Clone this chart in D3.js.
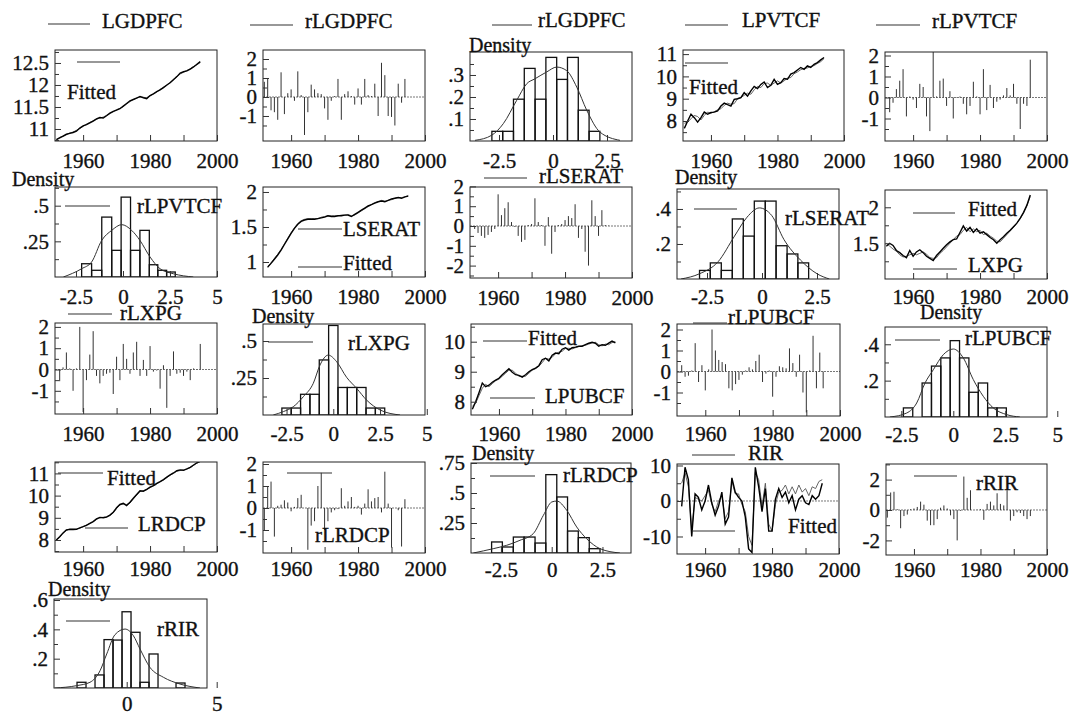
<!DOCTYPE html>
<html><head><meta charset="utf-8">
<script src="https://cdn.jsdelivr.net/npm/d3@7"></script>
<style>
body{margin:0;background:#fff}
svg{display:block}
text{font-family:"Liberation Serif","Times New Roman",serif;font-size:21px;fill:#111;stroke:#111;stroke-width:0.35px}
</style></head><body>
<svg id="c" width="1074" height="717"></svg>
<script>
// ---------------- DATA ----------------
const timeTicks = [1960, 1980, 2000];
const timeMinorTicks = [1970, 1990];

// LGDPFC
const lgdpfcStart = 1952;
const lgdpfcActual = [10.76,10.80,10.84,10.88,10.90,10.92,10.95,11.02,11.07,11.10,11.14,11.18,11.23,11.26,11.25,11.30,11.36,11.40,11.43,11.46,11.52,11.58,11.64,11.67,11.70,11.74,11.71,11.69,11.76,11.80,11.85,11.89,11.94,12.00,12.05,12.12,12.19,12.27,12.30,12.32,12.36,12.41,12.47,12.53];
const lgdpfcFitted = [10.75,10.81,10.83,10.87,10.91,10.93,10.97,11.01,11.06,11.11,11.15,11.19,11.22,11.25,11.27,11.31,11.35,11.39,11.44,11.47,11.51,11.57,11.62,11.67,11.71,11.72,11.72,11.71,11.75,11.80,11.84,11.90,11.95,11.99,12.06,12.13,12.18,12.25,12.29,12.33,12.37,12.42,12.46,12.51];
const lgdpfcTicks = [11, 11.5, 12, 12.5];
const rLgdpfcStart = 1952;
const rLgdpfc = [0.8,1.0,-0.7,-0.8,-1.2,1.3,-0.9,0.2,0.4,-0.2,1.35,0.1,-2.0,-0.8,0.65,0.4,0.2,0.15,-0.6,-1.2,-0.2,0.05,0.95,-1.2,0.15,0.3,0.05,-0.4,0.45,-0.4,0.95,0.1,0.05,0.7,-1.0,1.8,1.15,-1.0,-1.05,-1.5,0.7,-0.3,0.95];
const rLgdpfcBinEdges = [-2.83,-2.33,-1.83,-1.33,-0.83,-0.33,0.17,0.67,1.17,1.67,2.17];
const rLgdpfcBinDensity = [0.044,0.044,0.19,0.33,0.19,0.38,0.28,0.38,0.14,0.044];
const rLgdpfcCurveX = [-3.61,-2.84,-2.30,-1.68,-1.22,-0.83,-0.29,0.17,0.63,1.10,1.56,2.18,3.1];
const rLgdpfcCurveY = [0.003,0.026,0.079,0.185,0.26,0.283,0.314,0.336,0.32,0.245,0.14,0.04,0.003];

// LPVTCF
const lpvtcfStart = 1952;
const lpvtcfActual = [7.67,8.0,8.3,8.15,7.95,8.15,8.4,8.3,8.38,8.4,8.45,8.67,8.8,8.73,8.67,8.97,9.0,9.05,9.27,9.12,9.35,9.55,9.45,9.64,9.75,9.5,9.6,9.87,9.64,9.72,9.9,9.87,10.1,10.17,10.29,10.4,10.32,10.47,10.4,10.54,10.62,10.74,10.85];
const lpvtcfFitted = [7.9,7.95,8.1,8.25,8.2,8.05,8.25,8.4,8.35,8.42,8.5,8.55,8.7,8.8,8.75,8.78,9.0,9.05,9.15,9.25,9.2,9.4,9.55,9.5,9.68,9.7,9.6,9.7,9.8,9.7,9.8,9.92,9.95,10.12,10.2,10.3,10.36,10.38,10.45,10.48,10.58,10.66,10.8];
const lpvtcfTicks = [8, 9, 10, 11];
const rLpvtcfStart = 1953;
const rLpvtcf = [-0.7,-0.25,0.4,0.8,1.35,-0.9,0.05,-0.1,-0.5,0.65,0.5,-0.9,-1.6,2.2,0.05,0.8,0.9,-0.4,0.3,-1.0,0.02,0.05,-0.3,-0.8,-0.4,0.75,0.05,-0.8,1.35,-0.6,0.6,-0.5,-0.2,-0.1,0.1,0.45,0.1,0.65,-0.3,-1.5,-0.3,-0.4,1.8];
const rLpvtcfBinEdges = [-2.2,-1.67,-1.13,-0.6,-0.1,0.4,0.9,1.4,1.85,2.32,2.78];
const rLpvtcfBinDensity = [0.093,0.047,0.42,0.187,0.56,0.187,0.327,0.086,0.047,0.035];
const rLpvtcfCurveX = [-3.17,-2.2,-1.67,-1.13,-0.6,-0.07,0.46,0.9,1.44,1.97,2.68,3.74];
const rLpvtcfCurveY = [0,0.058,0.105,0.257,0.327,0.367,0.327,0.257,0.14,0.058,0.023,0];

// LSERAT
const lseratStart = 1953;
const lseratActual = [0.93,0.98,1.04,1.10,1.17,1.25,1.33,1.41,1.48,1.54,1.58,1.60,1.61,1.61,1.61,1.62,1.63,1.64,1.66,1.65,1.65,1.66,1.66,1.67,1.67,1.65,1.68,1.71,1.74,1.77,1.80,1.82,1.84,1.86,1.87,1.86,1.88,1.90,1.91,1.92,1.91,1.93,1.94];
const lseratFitted = [0.92,0.99,1.05,1.11,1.18,1.26,1.34,1.42,1.49,1.55,1.59,1.61,1.62,1.62,1.62,1.62,1.64,1.65,1.66,1.66,1.66,1.66,1.67,1.67,1.68,1.66,1.67,1.70,1.73,1.76,1.79,1.82,1.85,1.86,1.88,1.87,1.88,1.89,1.91,1.92,1.92,1.93,1.95];
const lseratTicks = [1, 1.5, 2];
const rLseratStart = 1953;
const rLserat = [-0.15,-0.35,-0.5,-0.6,-0.45,-0.3,-0.15,1.6,0.55,0.9,1.2,0.2,-0.05,-0.5,-0.8,-0.7,0.05,0.1,1.4,0.2,0.05,-1.0,0.45,-1.4,-0.3,0.05,0.1,0.3,0.5,0.4,1.1,-0.6,-0.15,-1.3,-2.0,1.3,0.5,-0.5,0.8,0.05,0.02];
const rLseratBinEdges = [-2.84,-2.35,-1.85,-1.35,-0.85,-0.35,0.15,0.64,1.14,1.63,2.12];
const rLseratBinDensity = [0.049,0.092,0.049,0.343,0.245,0.445,0.445,0.19,0.143,0.092];
const rLseratCurveX = [-3.68,-2.84,-2.0,-1.25,-0.68,-0.12,0.44,1.0,1.75,2.5,3.06];
const rLseratCurveY = [0,0.03,0.098,0.245,0.353,0.406,0.363,0.225,0.108,0.03,0];

// LXPG
const lxpgStart = 1952;
const lxpgActual = [1.46,1.50,1.47,1.40,1.37,1.33,1.30,1.40,1.32,1.38,1.41,1.37,1.32,1.29,1.26,1.33,1.38,1.43,1.48,1.52,1.55,1.56,1.65,1.74,1.67,1.72,1.65,1.70,1.64,1.66,1.62,1.58,1.55,1.50,1.55,1.59,1.64,1.68,1.73,1.78,1.85,1.93,2.03,2.17];
const lxpgFitted = [1.50,1.46,1.42,1.39,1.34,1.31,1.32,1.34,1.36,1.34,1.36,1.38,1.35,1.30,1.29,1.30,1.36,1.40,1.45,1.50,1.55,1.60,1.62,1.68,1.72,1.66,1.70,1.66,1.68,1.62,1.64,1.60,1.57,1.53,1.52,1.57,1.62,1.67,1.72,1.78,1.84,1.92,2.02,2.15];
const lxpgTicks = [1.5, 2];
const rLxpgStart = 1953;
const rLxpg = [-0.55,0.1,0.8,0.05,-1.0,0.05,2.0,-2.0,-0.5,0.7,1.8,-0.3,-0.65,-0.3,-0.2,-0.15,-1.15,0.6,-0.5,1.2,0.5,-0.2,0.8,1.3,-0.3,0.45,-0.3,1.1,-0.1,-0.05,-0.9,0.2,-1.8,-0.3,0.85,-0.2,-0.15,-0.3,-0.1,-0.5,0.05,0.02,1.2];
const rLxpgBinEdges = [-2.75,-2.25,-1.75,-1.25,-0.75,-0.25,0.25,0.75,1.25,1.75,2.25,2.75];
const rLxpgBinDensity = [0.047,0.047,0.14,0.14,0.372,0.605,0.186,0.186,0.186,0.047,0.047];
const rLxpgCurveX = [-3.21,-2.67,-2.14,-1.6,-1.07,-0.71,-0.27,0.18,0.71,1.25,1.78,2.5,3.57];
const rLxpgCurveY = [0,0.023,0.056,0.124,0.214,0.338,0.405,0.36,0.255,0.18,0.101,0.034,0];

// LPUBCF
const lpubcfStart = 1952;
const lpubcfActual = [7.75,8.0,8.3,8.62,8.5,8.55,8.65,8.72,8.78,8.9,9.0,9.1,8.98,8.9,8.88,8.82,8.9,9.0,9.07,9.12,9.2,9.4,9.45,9.36,9.55,9.62,9.6,9.75,9.8,9.72,9.8,9.82,9.85,9.85,9.9,9.95,9.98,9.95,9.85,9.9,9.88,9.95,10.02,9.96];
const lpubcfFitted = [7.85,7.95,8.2,8.45,8.58,8.5,8.6,8.7,8.75,8.85,8.95,9.05,9.05,8.95,8.85,8.85,8.85,8.95,9.05,9.1,9.18,9.3,9.45,9.42,9.48,9.6,9.65,9.68,9.78,9.78,9.76,9.8,9.84,9.86,9.88,9.92,9.96,9.98,9.9,9.86,9.92,9.9,9.97,10.0];
const lpubcfTicks = [8, 9, 10];
const rLpubcfStart = 1953;
const rLpubcf = [0.3,-0.25,-0.2,0.05,1.35,-0.5,0.3,-0.9,0.1,2.0,1.0,0.55,0.45,0.35,-0.8,-0.9,-0.6,-0.4,-0.15,0.05,0.2,0.1,0.5,0.8,-0.5,-0.1,0.05,-1.2,-0.25,0.25,0.2,0.15,1.1,0.4,-0.25,0.8,-1.0,-1.95,0.05,1.7,-0.8,0.9,-0.8];
const rLpubcfBinEdges = [-2.4,-1.95,-1.5,-1.05,-0.6,-0.15,0.3,0.75,1.2,1.65,2.1,2.55];
const rLpubcfBinDensity = [0.05,0,0.187,0.28,0.325,0.42,0.325,0.136,0.187,0.05,0.05];
const rLpubcfCurveX = [-3.05,-2.24,-1.76,-1.36,-0.96,-0.48,0,0.48,0.96,1.44,1.92,2.57,3.2];
const rLpubcfCurveY = [0,0.022,0.077,0.187,0.26,0.343,0.374,0.325,0.206,0.114,0.05,0.013,0];

// LRDCP
const lrdcpStart = 1952;
const lrdcpActual = [8.0,8.15,8.32,8.45,8.48,8.47,8.48,8.55,8.6,8.66,8.75,8.83,8.95,9.02,9.0,9.03,9.12,9.25,9.45,9.6,9.65,9.55,9.7,9.88,10.05,10.22,10.2,10.28,10.38,10.45,10.55,10.63,10.72,10.83,10.93,11.02,11.12,11.16,11.14,11.2,11.27,11.38,11.48,11.55];
const lrdcpFitted = [8.02,8.12,8.3,8.44,8.5,8.5,8.5,8.53,8.6,8.68,8.74,8.82,8.93,9.0,9.02,9.05,9.1,9.22,9.42,9.58,9.62,9.6,9.66,9.85,10.02,10.18,10.22,10.27,10.36,10.44,10.53,10.62,10.7,10.81,10.92,11.0,11.1,11.13,11.15,11.2,11.26,11.36,11.46,11.53];
const lrdcpTicks = [8, 9, 10, 11];
const rLrdcpStart = 1952;
const rLrdcp = [-1.0,1.0,1.2,-1.3,0.1,0.15,0.35,0.25,-0.15,0.05,0.45,0.6,0.0,-1.9,-0.8,-0.6,1.0,1.6,-1.0,-0.6,-0.2,-0.1,-0.05,0.9,0.1,0.3,0.5,0.05,0.1,-0.3,0.2,0.85,0.3,0.45,0.5,-0.2,1.65,0.2,-1.8,0.0,-0.1,-1.75,0.4];
const rLrdcpBinEdges = [-2.96,-2.43,-1.89,-1.36,-0.82,-0.29,0.25,0.78,1.31,1.85,2.38];
const rLrdcpBinDensity = [0.092,0.05,0.133,0.133,0.083,0.653,0.467,0.183,0.128,0.036];
const rLrdcpCurveX = [-3.86,-2.88,-2.22,-1.56,-0.91,-0.41,0,0.25,0.74,1.23,1.72,2.38,3.36];
const rLrdcpCurveY = [0,0.036,0.064,0.106,0.161,0.314,0.425,0.433,0.356,0.217,0.119,0.036,0];

// RIR
const rirStart = 1953;
const rirActual = [-1.5,9.5,6,-10,2,1,-2.5,0,4.5,-0.5,-4,-1.5,2.5,-6.5,-4.5,6.5,2.5,1,0,-4.5,-13.5,-14.5,9.5,4,-3,3.5,-8.5,-8.5,0.5,3.5,1,2.5,-0.5,1.5,-2.5,0.5,1.5,-0.5,-1,1.5,0.5,1.5,5];
const rirFitted = [5,8,4,-8,1,0.5,0,1.5,3,-1,-3,0,1.5,-5,-3,5.5,2,2,-1,-3,-10,-12.5,8,6,-1.5,5,-6.5,-8.5,-1,2.5,3,4.5,2,4,2,4.5,2.5,3.5,1.5,4,3.5,5.5,6];
const rirTicks = [-10, 0, 10];
const rRirStart = 1952;
const rRir = [-0.5,1.15,1.2,0.05,-1.2,-0.4,-0.3,0.05,0.1,0.2,0.55,0.35,-0.7,-1.0,-1.0,-0.6,0.15,0.3,0.1,-0.35,-0.6,-2.0,-0.05,2.2,0.8,1.3,0.0,0.02,0.05,-0.65,0.4,0.55,0.3,1.1,0.4,0.3,1.3,-0.7,-0.4,-0.15,-0.2,-0.4,-0.6,-0.4];
const rRirBinEdges = [-2.76,-2.26,-1.76,-1.26,-0.76,-0.26,0.24,0.74,1.24,1.74,2.24,2.74,3.24];
const rRirBinDensity = [0.039,0,0.089,0.33,0.327,0.52,0.38,0.039,0.232,0,0,0.034];
const rRirCurveX = [-3.98,-2.78,-2.04,-1.48,-1.11,-0.65,-0.09,0.37,0.74,1.29,2.04,2.96,4.07];
const rRirCurveY = [0,0.016,0.039,0.118,0.232,0.364,0.402,0.357,0.266,0.141,0.073,0.027,0];

const residTicks = [-1, 0, 1, 2];
const residTicksWide = [-2, -1, 0, 1, 2];
const residTicksRir = [-2, 0, 2];
const histTicksA = [-2.5, 0, 2.5];
const histTicksB = [-2.5, 0, 2.5, 5];
const histTicksC = [0, 5];

// ---------------- LAYOUT ----------------
const TS_X = [1951.6, 2000];
const panels = [
  {kind:'ts', box:[55,50,217,141], yd:[10.727,12.795], yTicks:lgdpfcTicks, start:lgdpfcStart, actual:lgdpfcActual, fitted:lgdpfcFitted, pad:12,
   lines:[[48,90,24],[77,120,62]], texts:[[102,21,'LGDPFC'],[67,92,'Fitted']]},
  {kind:'resid', box:[263,50,425,141], yd:[-2.316,2.474], yTicks:residTicks, start:rLgdpfcStart, values:rLgdpfc, pad:12,
   lines:[[250,293,25]], texts:[[305,21,'rLGDPFC']]},
  {kind:'hist', box:[470,52,632,141], xd:[-3.843,3.657], yd:[0,0.4045], yTicks:[0.1,0.2,0.3], xTicks:histTicksA,
   edges:rLgdpfcBinEdges, dens:rLgdpfcBinDensity, cx:rLgdpfcCurveX, cy:rLgdpfcCurveY, pad:12,
   lines:[[492,532,25]], texts:[[538,19.5,'rLGDPFC']], density:[469,52]},
  {kind:'ts', box:[683,50,844,141], yd:[7.103,11.184], yTicks:lpvtcfTicks, start:lpvtcfStart, actual:lpvtcfActual, fitted:lpvtcfFitted, pad:12,
   lines:[[685,728,25],[685,728,63]], texts:[[742,19.5,'LPVTCF'],[689,87,'Fitted']]},
  {kind:'resid', box:[885,52,1047,141], yd:[-2.071,2.167], yTicks:residTicks, start:rLpvtcfStart, values:rLpvtcf, pad:12,
   lines:[[876,920,25]], texts:[[932,21,'rLPVTCF']]},

  {kind:'hist', box:[55,187,217,277], xd:[-3.617,5.0], yd:[0,0.631], yTicks:[0.25,0.5], xTicks:histTicksB,
   edges:rLpvtcfBinEdges, dens:rLpvtcfBinDensity, cx:rLpvtcfCurveX, cy:rLpvtcfCurveY, pad:12,
   lines:[[65,110,206]], texts:[[137,206,'rLPVTCF']], density:[12,186]},
  {kind:'ts', box:[263,187,425,277], yd:[0.786,2.071], yTicks:lseratTicks, start:lseratStart, actual:lseratActual, fitted:lseratFitted, pad:12,
   lines:[[298,342,229],[298,342,267]], texts:[[343,229,'LSERAT'],[343,263,'Fitted']]},
  {kind:'resid', box:[470,187,632,278], yd:[-2.626,1.97], yTicks:residTicksWide, start:rLseratStart, values:rLserat, pad:12,
   lines:[[484,527,178]], texts:[[539,176,'rLSERAT']]},
  {kind:'hist', box:[677,189,839,279], xd:[-3.864,3.5], yd:[0,0.514], yTicks:[0.2,0.4], xTicks:histTicksA,
   edges:rLseratBinEdges, dens:rLseratBinDensity, cx:rLseratCurveX, cy:rLseratCurveY, pad:10,
   lines:[[694,737,209]], texts:[[785,218,'rLSERAT']], density:[675,184]},
  {kind:'ts', box:[885,190,1047,279], yd:[1.004,2.240], yTicks:lxpgTicks, start:lxpgStart, actual:lxpgActual, fitted:lxpgFitted, pad:10,
   lines:[[913,955,213],[913,957,269]], texts:[[968,209,'Fitted'],[968,265,'LXPG']]},

  {kind:'resid', box:[55,323,217,414], yd:[-2.089,2.183], yTicks:residTicks, start:rLxpgStart, values:rLxpg, pad:12,
   lines:[[68,112,314]], texts:[[120,313,'rLXPG']]},
  {kind:'hist', box:[263,324,425,415], xd:[-3.759,4.904], yd:[0,0.615], yTicks:[0.25,0.5], xTicks:histTicksB,
   edges:rLxpgBinEdges, dens:rLxpgBinDensity, cx:rLxpgCurveX, cy:rLxpgCurveY, pad:11,
   lines:[[268,313,342]], texts:[[348,343,'rLXPG']], density:[252,323]},
  {kind:'ts', box:[471,324,632,415], yd:[7.557,10.59], yTicks:lpubcfTicks, start:lpubcfStart, actual:lpubcfActual, fitted:lpubcfFitted, pad:11,
   lines:[[483,527,341],[490,535,398]], texts:[[528,338,'Fitted'],[545,396,'LPUBCF']]},
  {kind:'resid', box:[677,324,840,416], yd:[-2.119,2.262], yTicks:residTicks, start:rLpubcfStart, values:rLpubcf, pad:10,
   lines:[[693,727,323]], texts:[[728,317,'rLPUBCF']]},
  {kind:'hist', box:[885,327,1047,417], xd:[-3.284,4.505], yd:[0,0.495], yTicks:[0.2,0.4], xTicks:histTicksB,
   edges:rLpubcfBinEdges, dens:rLpubcfBinDensity, cx:rLpubcfCurveX, cy:rLpubcfCurveY, pad:10,
   lines:[[895,940,340]], texts:[[965,338,'rLPUBCF']], density:[920,319]},

  {kind:'ts', box:[55,462,217,552], yd:[7.459,11.514], yTicks:lrdcpTicks, start:lrdcpStart, actual:lrdcpActual, fitted:lrdcpFitted, pad:9,
   lines:[[58,103,473],[85,128,528]], texts:[[107,478,'Fitted'],[138,524,'LRDCP']]},
  {kind:'resid', box:[263,462,425,553], yd:[-2.045,2.091], yTicks:residTicks, start:rLrdcpStart, values:rLrdcp, pad:8,
   lines:[[287,332,473]], texts:[[315,535,'rLRDCP']]},
  {kind:'hist', box:[471,463,631,553], xd:[-3.975,3.906], yd:[0,0.75], yTicks:[0.25,0.5,0.75], xTicks:histTicksA,
   edges:rLrdcpBinEdges, dens:rLrdcpBinDensity, cx:rLrdcpCurveX, cy:rLrdcpCurveY, pad:9,
   lines:[[490,535,476]], texts:[[563,475,'rLRDCP']], density:[472,460]},
  {kind:'ts', box:[677,464,839,554], yd:[-14.93,10.42], yTicks:rirTicks, start:rirStart, actual:rirActual, fitted:rirFitted, pad:8, zero:true,
   lines:[[692,735,455],[692,735,531]], texts:[[748,453,'RIR'],[788,526,'Fitted']]},
  {kind:'resid', box:[886,464,1047,555], yd:[-2.961,3.026], yTicks:residTicksRir, start:rRirStart, values:rRir, pad:7,
   lines:[[914,957,476]], texts:[[976,483,'rRIR']]},

  {kind:'hist', box:[54,599,207,688], xd:[-4.039,4.461], yd:[0,0.607], yTicks:[0.2,0.4,0.6], xTicks:histTicksC,
   edges:rRirBinEdges, dens:rRirBinDensity, cx:rRirCurveX, cy:rRirCurveY, pad:8,
   lines:[[66,110,621]], texts:[[157,629,'rRIR']], density:[48,596]}
];

// ---------------- DRAW ----------------
const svg = d3.select('#c');
const defs = svg.append('defs');
const fmtNum = v => (v !== 0 && Math.abs(v) < 1) ? String(v).replace('0.', '.') : String(v);

function minorOf(ticks, dom) {
  const out = d3.pairs(ticks).map(([a, b]) => (a + b) / 2);
  if (ticks.length > 1) {
    const step = ticks[1] - ticks[0];
    const lo = ticks[0] - step / 2, hi = ticks[ticks.length - 1] + step / 2;
    if (lo > dom[0]) out.unshift(lo);
    if (hi < dom[1]) out.push(hi);
  }
  return out;
}

panels.forEach((p, i) => {
  const [x0, y0, x1, y1] = p.box;
  const g = svg.append('g');
  const xd = p.kind === 'hist' ? p.xd : TS_X;
  const x = d3.scaleLinear().domain(xd).range([x0, x1]);
  const y = d3.scaleLinear().domain(p.yd).range([y1, y0]);
  const cid = 'clip' + i;
  defs.append('clipPath').attr('id', cid).append('rect')
    .attr('x', x0).attr('y', y0).attr('width', x1 - x0).attr('height', y1 - y0);
  const inner = g.append('g').attr('clip-path', `url(#${cid})`);

  if (p.kind === 'ts') {
    if (p.zero) {
      inner.append('line').attr('x1', x0).attr('x2', x1).attr('y1', y(0)).attr('y2', y(0))
        .attr('stroke', '#777').attr('stroke-width', 1).attr('stroke-dasharray', '2,1');
    }
    const line = d3.line().x((d, k) => x(p.start + k)).y(d => y(d));
    inner.append('path').attr('d', line(p.fitted)).attr('fill', 'none')
      .attr('stroke', '#555').attr('stroke-width', 0.9);
    inner.append('path').attr('d', line(p.actual)).attr('fill', 'none')
      .attr('stroke', '#000').attr('stroke-width', 1.4);
  } else if (p.kind === 'resid') {
    inner.append('line').attr('x1', x0).attr('x2', x1).attr('y1', y(0)).attr('y2', y(0))
      .attr('stroke', '#777').attr('stroke-width', 1).attr('stroke-dasharray', '2,1');
    inner.selectAll('line.bar').data(p.values).join('line').attr('class', 'bar')
      .attr('x1', (d, k) => x(p.start + k)).attr('x2', (d, k) => x(p.start + k))
      .attr('y1', y(0)).attr('y2', d => y(d))
      .attr('stroke', '#333').attr('stroke-width', 1);
  } else {
    const bins = p.dens.map((h, k) => ({a: p.edges[k], b: p.edges[k + 1], h})).filter(d => d.h > 0);
    inner.selectAll('rect.bin').data(bins).join('rect').attr('class', 'bin')
      .attr('x', d => x(d.a)).attr('width', d => x(d.b) - x(d.a))
      .attr('y', d => y(d.h)).attr('height', d => y(0) - y(d.h))
      .attr('fill', 'none').attr('stroke', '#111').attr('stroke-width', 1.3);
    const pts = p.cx.map((v, k) => [v, p.cy[k]]);
    inner.append('path').attr('d', d3.line().x(d => x(d[0])).y(d => y(d[1])).curve(d3.curveMonotoneX)(pts))
      .attr('fill', 'none').attr('stroke', '#333').attr('stroke-width', 1);
  }

  // frame
  g.append('rect').attr('x', x0).attr('y', y0).attr('width', x1 - x0).attr('height', y1 - y0)
    .attr('fill', 'none').attr('stroke', '#222').attr('stroke-width', 1);

  // y axis (ticks inside)
  const ya = g.append('g').attr('transform', `translate(${x0},0)`).style('color', '#333')
    .call(d3.axisLeft(y).tickValues(p.yTicks).tickSize(-6).tickPadding(6).tickFormat(fmtNum));
  ya.select('.domain').remove();
  const ym = g.append('g').attr('transform', `translate(${x0},0)`).style('color', '#333')
    .call(d3.axisLeft(y).tickValues(minorOf(p.yTicks, p.yd)).tickSize(-4).tickFormat(''));
  ym.select('.domain').remove();

  // x axis
  const xt = p.kind === 'hist' ? p.xTicks : timeTicks;
  const xa = g.append('g').attr('transform', `translate(0,${y1})`).style('color', '#333')
    .call(d3.axisBottom(x).tickValues(xt).tickSize(-6).tickPadding(p.pad).tickFormat(fmtNum));
  xa.select('.domain').remove();
  if (p.kind !== 'hist') {
    const xm = g.append('g').attr('transform', `translate(0,${y1})`).style('color', '#333')
      .call(d3.axisBottom(x).tickValues(timeMinorTicks).tickSize(-6).tickFormat(''));
    xm.select('.domain').remove();
  }

  // legend lines and labels
  p.lines.forEach(l => {
    g.append('line').attr('x1', l[0]).attr('x2', l[1]).attr('y1', l[2]).attr('y2', l[2])
      .attr('stroke', '#333').attr('stroke-width', 1.1);
  });
  p.texts.forEach(t => {
    g.append('text').attr('x', t[0]).attr('y', t[1] + 7).text(t[2]);
  });
  if (p.density) {
    g.append('text').attr('x', p.density[0]).attr('y', p.density[1]).style('font-size', '20px').text('Density');
  }
});
</script>
</body></html>
